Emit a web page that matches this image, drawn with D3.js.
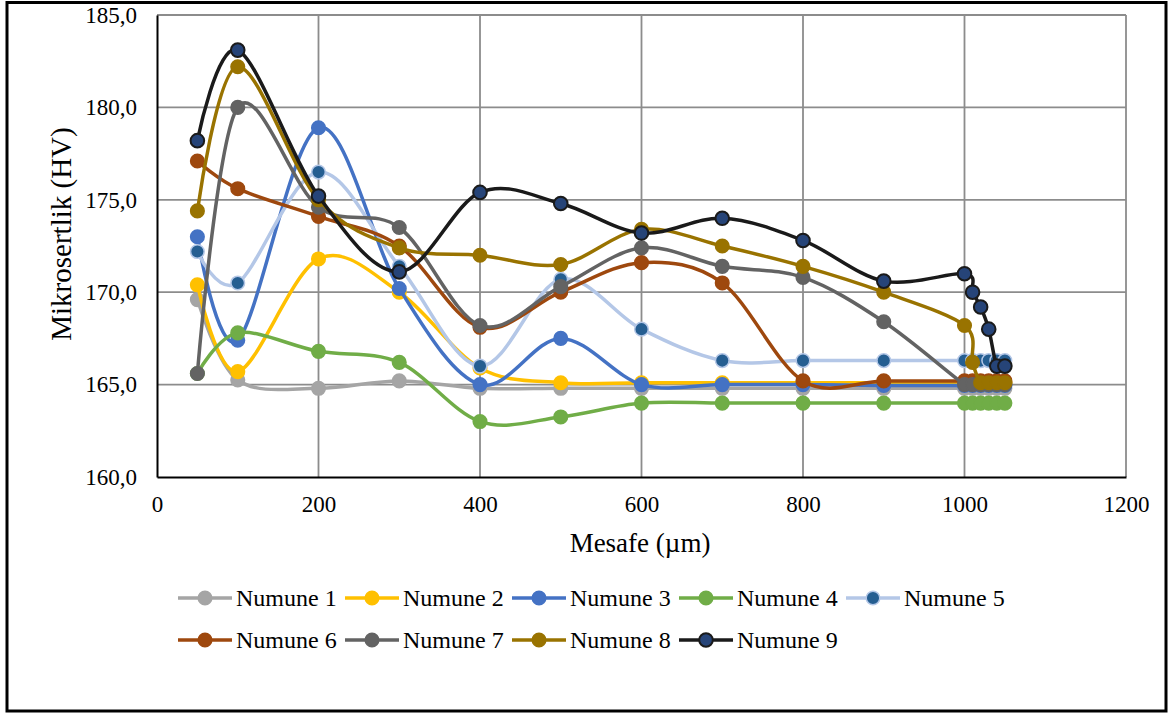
<!DOCTYPE html>
<html>
<head>
<meta charset="utf-8">
<script src="https://cdn.jsdelivr.net/npm/d3@7"></script>
<style>
  html, body { margin: 0; padding: 0; background: #ffffff; }
  svg { display: block; }
</style>
</head>
<body>
<svg id="chart" width="1169" height="715"></svg>
<script>
// Measurement positions (µm)
const distances = [50, 100, 200, 300, 400, 500, 600, 700, 800, 900, 1000, 1010, 1020, 1030, 1040, 1050];

// Microhardness (HV) per sample
const numune1 = [169.6, 165.25, 164.8, 165.2, 164.8, 164.8, 164.8, 164.8, 164.8, 164.8, 164.8, 164.8, 164.8, 164.8, 164.8, 164.8];
const numune2 = [170.4, 165.7, 171.8, 170.0, 165.9, 165.1, 165.1, 165.1, 165.1, 165.1, 165.1, 165.1, 165.1, 165.1, 165.1, 165.1];
const numune3 = [173.0, 167.4, 178.9, 170.2, 165.0, 167.5, 165.0, 165.0, 165.0, 164.95, 164.95, 164.95, 164.95, 164.95, 164.95, 164.95];
const numune4 = [165.6, 167.8, 166.8, 166.2, 163.0, 163.25, 164.0, 164.0, 164.0, 164.0, 164.0, 164.0, 164.0, 164.0, 164.0, 164.0];
const numune5 = [172.2, 170.5, 176.5, 171.4, 166.0, 170.7, 168.0, 166.3, 166.3, 166.3, 166.3, 166.3, 166.3, 166.3, 166.3, 166.3];
const numune6 = [177.1, 175.6, 174.1, 172.5, 168.1, 170.0, 171.6, 170.5, 165.2, 165.2, 165.2, 165.2, 165.2, 165.2, 165.2, 165.2];
const numune7 = [165.6, 180.0, 174.6, 173.5, 168.2, 170.3, 172.4, 171.4, 170.8, 168.4, 165.0, 165.0, 165.0, 165.0, 165.0, 165.0];
const numune8 = [174.4, 182.2, 175.0, 172.4, 172.0, 171.5, 173.4, 172.5, 171.4, 170.0, 168.2, 166.2, 165.1, 165.1, 165.1, 165.1];
const numune9 = [178.2, 183.1, 175.2, 171.1, 175.4, 174.8, 173.2, 174.0, 172.8, 170.6, 171.0, 170.0, 169.2, 168.0, 166.0, 166.0];

const seriesNames = ["Numune 1", "Numune 2", "Numune 3", "Numune 4", "Numune 5",
                     "Numune 6", "Numune 7", "Numune 8", "Numune 9"];
const seriesValues = [numune1, numune2, numune3, numune4, numune5, numune6, numune7, numune8, numune9];

// Line colour, marker fill, marker outline
const lineColors   = ["#A5A5A5", "#FFC000", "#4472C4", "#70AD47", "#B4C7E7", "#9E480E", "#636363", "#997300", "#1A1A1A"];
const markerFills  = ["#A5A5A5", "#FFC000", "#4472C4", "#70AD47", "#255E91", "#9E480E", "#636363", "#997300", "#264478"];
const markerRings  = ["#A5A5A5", "#FFC000", "#4472C4", "#70AD47", "#B4C7E7", "#9E480E", "#636363", "#997300", "#1A1A1A"];

const xTicks = [0, 200, 400, 600, 800, 1000, 1200];
const yTicks = [160, 165, 170, 175, 180, 185];

const FONT = "'Liberation Serif', 'Times New Roman', 'DejaVu Serif', serif";

const svg = d3.select("#chart");
const plot = { left: 157, right: 1126, top: 15, bottom: 477 };

// outer frame
svg.append("rect")
  .attr("x", 7).attr("y", 2.5)
  .attr("width", 1159).attr("height", 708.5)
  .attr("fill", "#fff").attr("stroke", "#000").attr("stroke-width", 3);

const x = d3.scaleLinear().domain([0, 1200]).range([plot.left, plot.right]);
const y = d3.scaleLinear().domain([160, 185]).range([plot.bottom, plot.top]);

// gridlines
const grid = svg.append("g");
grid.selectAll("line.v").data(xTicks.slice(1)).join("line")
  .attr("x1", d => x(d)).attr("x2", d => x(d))
  .attr("y1", plot.top).attr("y2", plot.bottom)
  .attr("stroke", "#8C8C8C").attr("stroke-width", 1.8);
grid.selectAll("line.h").data(yTicks.slice(1)).join("line")
  .attr("x1", plot.left).attr("x2", plot.right)
  .attr("y1", d => y(d)).attr("y2", d => y(d))
  .attr("stroke", "#8C8C8C").attr("stroke-width", 1.8);

// axes
const fmtY = v => d3.format(".1f")(v).replace(".", ",");
const yAxis = svg.append("g")
  .attr("transform", `translate(${plot.left},0)`)
  .call(d3.axisLeft(y).tickValues(yTicks).tickFormat(fmtY).tickSize(0).tickPadding(20));
const xAxis = svg.append("g")
  .attr("transform", `translate(0,${plot.bottom})`)
  .call(d3.axisBottom(x).tickValues(xTicks).tickFormat(d3.format("d")).tickSize(0).tickPadding(19));
[yAxis, xAxis].forEach(a => {
  a.attr("font-family", FONT).attr("font-size", 23);
  a.select(".domain").attr("stroke", "#000").attr("stroke-width", 2);
  a.selectAll("text").style("font-family", FONT).attr("font-size", 23).attr("fill", "#000");
});

// axis titles
svg.append("text")
  .attr("transform", `translate(71,234) rotate(-90)`)
  .attr("text-anchor", "middle")
  .style("font-family", FONT)
  .attr("font-size", 29)
  .text("Mikrosertlik (HV)");
svg.append("text")
  .attr("x", 640).attr("y", 552)
  .attr("text-anchor", "middle")
  .style("font-family", FONT)
  .attr("font-size", 27)
  .text("Mesafe (µm)");

// series
const line = d3.line()
  .x((d, i) => x(distances[i]))
  .y(d => y(d))
  .curve(d3.curveCardinal.tension(0));

const seriesG = svg.append("g");
seriesValues.forEach((vals, s) => {
  const g = seriesG.append("g");
  g.append("path")
    .datum(vals)
    .attr("d", line)
    .attr("fill", "none")
    .attr("stroke", lineColors[s])
    .attr("stroke-width", 3.5)
    .attr("stroke-linejoin", "round");
  g.selectAll("circle").data(vals).join("circle")
    .attr("cx", (d, i) => x(distances[i]))
    .attr("cy", d => y(d))
    .attr("r", 6.8)
    .attr("fill", markerFills[s])
    .attr("stroke", markerRings[s])
    .attr("stroke-width", s === 8 ? 2 : 1.5);
});

// legend
const legend = svg.append("g");
seriesNames.forEach((name, s) => {
  const col = s < 5 ? s : s - 5;
  const row = s < 5 ? 0 : 1;
  const lx = 178 + col * 167;
  const ly = 598 + row * 42;
  const item = legend.append("g");
  item.append("line")
    .attr("x1", lx).attr("x2", lx + 54)
    .attr("y1", ly).attr("y2", ly)
    .attr("stroke", lineColors[s]).attr("stroke-width", 3.5);
  item.append("circle")
    .attr("cx", lx + 27).attr("cy", ly).attr("r", 6.8)
    .attr("fill", markerFills[s]).attr("stroke", markerRings[s])
    .attr("stroke-width", s === 8 ? 2 : 1.5);
  item.append("text")
    .attr("x", lx + 58).attr("y", ly)
    .attr("dy", "0.35em")
    .style("font-family", FONT)
    .attr("font-size", 24)
    .text(name);
});
</script>
</body>
</html>
